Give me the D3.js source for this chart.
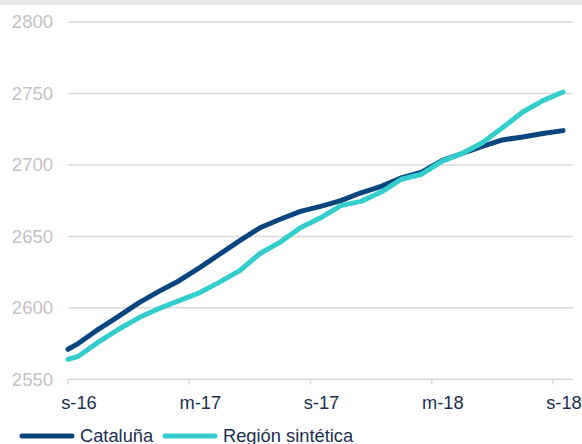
<!DOCTYPE html>
<html>
<head>
<meta charset="utf-8">
<script src="https://cdn.jsdelivr.net/npm/d3@7"></script>
<style>
  body { margin: 0; background: #fff; }
  svg { display: block; font-family: "Liberation Sans", Arial, sans-serif; }
</style>
</head>
<body>
<div id="vis"></div>
<script>
// month offsets from s-16 (sep 2016)
var monthPos = [0, 0.5, 1.5, 2.5, 3.5, 4.5, 5.5, 6.5, 7.5, 8.5, 9.5, 10.5, 11.5, 12.5,
  13.5, 14.5, 15.5, 16.5, 17.5, 18.5, 19.5, 20.5, 21.5, 22.5, 23.5, 24.5];
var cataluna = [2571, 2575, 2585, 2594, 2603.5, 2611.5, 2619, 2628, 2637.5, 2647, 2656, 2662,
  2667.5, 2671, 2675, 2680.5, 2685, 2691, 2695, 2703, 2708, 2713, 2717.5, 2719.5, 2722, 2724];
var sintetica = [2564, 2566, 2576, 2585, 2593, 2599.5, 2605, 2610.5, 2618, 2626, 2638, 2646,
  2656, 2663, 2671.5, 2674.5, 2681, 2690, 2693.5, 2702.5, 2708, 2715.5, 2726, 2737, 2745, 2751];
var tickPos = [0, 6, 12, 18, 24];
var tickLabels = ['s-16', 'm-17', 's-17', 'm-18', 's-18'];
var yTicks = [2550, 2600, 2650, 2700, 2750, 2800];
var seriesNames = ['Cataluña', 'Región sintética'];
var seriesColors = ['#08457e', '#33cdcb'];

var width = 582;
var height = 444;

var svg = d3.select('#vis').append('svg')
  .attr('width', width)
  .attr('height', height);

// grey band at the top
svg.append('rect')
  .attr('x', 0).attr('y', 0)
  .attr('width', width).attr('height', 5)
  .attr('fill', '#e7e7e7');

var x = d3.scaleLinear().domain([0, 24]).range([68, 553]);
var y = d3.scaleLinear().domain([2550, 2800]).range([379.3, 22]);

// gridlines
svg.append('g')
  .selectAll('line')
  .data(yTicks)
  .enter()
  .append('line')
  .attr('x1', 68)
  .attr('x2', 573)
  .attr('y1', (d) => y(d))
  .attr('y2', (d) => y(d))
  .attr('stroke', '#d9d9d9')
  .attr('stroke-width', 1.5);

// y labels
svg.append('g')
  .selectAll('text')
  .data(yTicks)
  .enter()
  .append('text')
  .attr('x', 53)
  .attr('y', (d) => y(d))
  .attr('dy', '0.35em')
  .attr('text-anchor', 'end')
  .attr('font-size', 18.5)
  .attr('fill', '#c3c3c3')
  .text((d) => d);

// x tick marks
svg.append('g')
  .selectAll('line')
  .data(tickPos)
  .enter()
  .append('line')
  .attr('x1', (d) => x(d))
  .attr('x2', (d) => x(d))
  .attr('y1', y(2550))
  .attr('y2', y(2550) + 5)
  .attr('stroke', '#d9d9d9')
  .attr('stroke-width', 1.5);

// x labels (sit a little right of the ticks)
svg.append('g')
  .selectAll('text')
  .data(tickPos)
  .enter()
  .append('text')
  .attr('x', (d) => x(d) + 11)
  .attr('y', 409)
  .attr('text-anchor', 'middle')
  .attr('font-size', 18.3)
  .attr('fill', '#1c2f50')
  .text((d, i) => tickLabels[i]);

// lines
var line = d3.line()
  .x((d) => x(d[0]))
  .y((d) => y(d[1]));

[cataluna, sintetica].forEach(function (values, k) {
  svg.append('path')
    .datum(monthPos.map((m, i) => [m, values[i]]))
    .attr('d', line)
    .attr('fill', 'none')
    .attr('stroke', seriesColors[k])
    .attr('stroke-width', 5)
    .attr('stroke-linecap', 'round')
    .attr('stroke-linejoin', 'round');
});

// legend
var legendX = [20, 163];
var legend = svg.append('g');
seriesNames.forEach(function (name, k) {
  legend.append('line')
    .attr('x1', legendX[k] + 2)
    .attr('x2', legendX[k] + 52)
    .attr('y1', 436)
    .attr('y2', 436)
    .attr('stroke', seriesColors[k])
    .attr('stroke-width', 5)
    .attr('stroke-linecap', 'round');
  legend.append('text')
    .attr('x', legendX[k] + 60)
    .attr('y', 442)
    .attr('font-size', 18.3)
    .attr('fill', '#1c2f50')
    .text(name);
});
</script>
</body>
</html>
